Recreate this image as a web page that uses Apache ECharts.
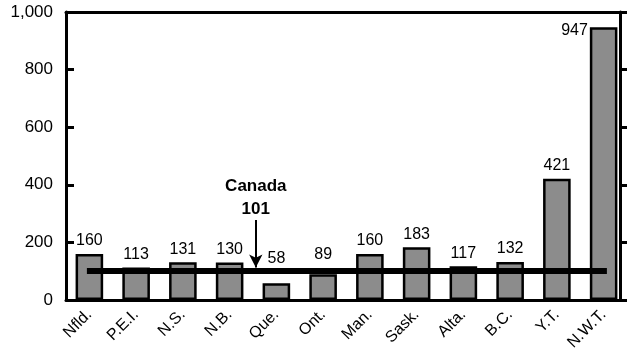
<!DOCTYPE html>
<html><head><meta charset="utf-8">
<script src="https://cdn.jsdelivr.net/npm/echarts@6/dist/echarts.min.js"></script>
<style>html,body{margin:0;padding:0;background:#fff}#c{width:627px;height:360px}</style>
</head><body><div id="c"></div>
<script>
const categories = ['Nfld.','P.E.I.','N.S.','N.B.','Que.','Ont.','Man.','Sask.','Alta.','B.C.','Y.T.','N.W.T.'];
const values = [160,113,131,130,58,89,160,183,117,132,421,947];
const canadaValue = 101;
const canadaLabel = 'Canada';
const yTicks = [0,200,400,600,800,1000];

const chart = echarts.init(document.getElementById('c'));
const font = '"Liberation Sans", Arial, sans-serif';
const barData = values.map((v,i)=>{
  const d = {value:v};
  if (categories[i] === 'N.W.T.') d.label = {position:[-2,3], align:'right', verticalAlign:'middle'};
  if (categories[i] === 'Que.') d.label = {distance:17};
  if (categories[i] === 'Ont.') d.label = {distance:12};
  return d;
});
chart.setOption({
  animation:false,
  grid:[{left:66,right:-5,top:12,bottom:60},{left:66,right:7,top:12,bottom:60}],
  xAxis:[
    {type:'category',data:categories,position:'bottom',gridIndex:0,
     axisLine:{lineStyle:{color:'#000',width:3}},axisTick:{show:false},
     axisLabel:{rotate:45,color:'#000',fontSize:16,fontFamily:font,margin:12,interval:0}},
    {type:'value',min:-0.5,max:11.5,position:'top',gridIndex:0,
     axisLine:{show:true,onZero:false,lineStyle:{color:'#000',width:3}},axisTick:{show:false},axisLabel:{show:false},splitLine:{show:false}},
    {type:'value',min:0,max:1,gridIndex:1,show:false}
  ],
  yAxis:[
    {type:'value',min:0,max:1000,interval:200,position:'left',gridIndex:0,
     axisLine:{show:true,onZero:false,lineStyle:{color:'#000',width:3}},
     axisTick:{show:true,inside:true,length:8,lineStyle:{color:'#000',width:3}},
     splitLine:{show:false},
     axisLabel:{color:'#000',fontSize:17,fontFamily:font,margin:13,
       formatter:v=>v.toLocaleString('en-US')}},
    {type:'value',min:0,max:1000,interval:200,position:'right',gridIndex:1,z:10,
     axisLine:{show:true,onZero:false,lineStyle:{color:'#000',width:3}},
     axisTick:{show:true,inside:false,length:7,lineStyle:{color:'#000',width:3}},
     splitLine:{show:false},axisLabel:{show:false}}
  ],
  series:[
    {type:'bar',xAxisIndex:0,yAxisIndex:0,data:barData,barCategoryGap:'41%',
     itemStyle:{color:'#8c8c8c',borderColor:'#000',borderWidth:2.5},
     label:{show:true,position:'top',color:'#000',fontSize:16,fontFamily:font,distance:5}},
    {type:'line',xAxisIndex:1,yAxisIndex:0,symbol:'none',z:5,
     data:[[-0.053,canadaValue],[11.07,canadaValue]],
     lineStyle:{color:'#000',width:6},
     markLine:{silent:true,symbol:['none','arrow'],symbolSize:[10,13],
       lineStyle:{color:'#000',width:2,type:'solid'},
       label:{show:true,position:'start',formatter:canadaLabel+'\n'+canadaValue,
         color:'#000',fontSize:17,fontWeight:'bold',fontFamily:font,lineHeight:23,distance:-1},
       data:[[{coord:[3.56,278]},{coord:[3.56,113]}]]}}
  ]
});
</script></body></html>
